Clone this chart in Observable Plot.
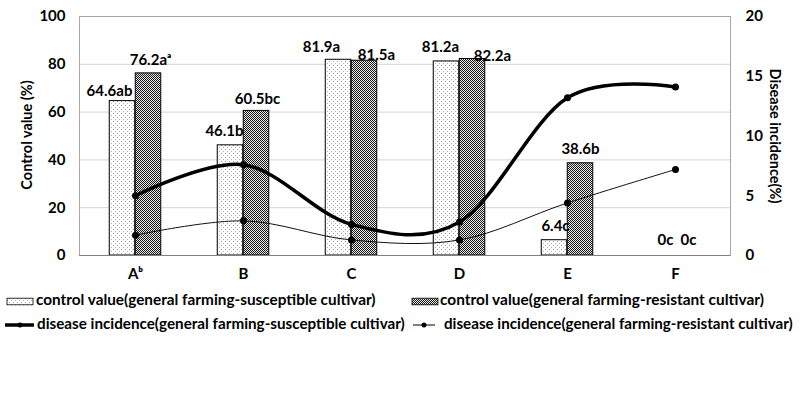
<!DOCTYPE html>
<html>
<head>
<meta charset="utf-8">
<script src="https://cdn.jsdelivr.net/npm/d3@7"></script>
<script src="https://cdn.jsdelivr.net/npm/@observablehq/plot@0.6"></script>
<style>
  html, body { margin: 0; padding: 0; background: #fff; }
  #chart svg, #legend svg { display: block; }
  #chart text { font-weight: bold; }
</style>
</head>
<body>
<svg width="0" height="0" style="position:absolute">
  <defs>
    <pattern id="pDots" width="4" height="4" patternUnits="userSpaceOnUse">
      <rect width="4" height="4" fill="#ffffff"/>
      <rect x="1" y="1" width="1" height="1" fill="#9a9a9a"/>
      <rect x="3" y="3" width="1" height="1" fill="#b0b0b0"/>
    </pattern>
    <pattern id="pCheck" width="2" height="2" patternUnits="userSpaceOnUse">
      <rect width="2" height="2" fill="#e8e8e8"/>
      <rect x="0" y="0" width="1" height="1" fill="#1a1a1a"/>
      <rect x="1" y="1" width="1" height="1" fill="#1a1a1a"/>
    </pattern>
  </defs>
</svg>
<div id="chart"></div>
<div id="legend"></div>
<script>
// ---- data ----
const categories = ["A", "B", "C", "D", "E", "F"];
const xLabels = ["A\u1d47", "B", "C", "D", "E", "F"];
const controlSus = [64.6, 46.1, 81.9, 81.2, 6.4, 0];
const controlRes = [76.2, 60.5, 81.5, 82.2, 38.6, 0];
const labelSus = ["64.6ab", "46.1b", "81.9a", "81.2a", "6.4c", "0c"];
const labelRes = ["76.2a\u1d43", "60.5bc", "81.5a", "82.2a", "38.6b", "0c"];
const incidenceSus = [5.0, 7.6, 2.6, 2.8, 13.2, 14.1];
const incidenceRes = [1.7, 2.9, 1.3, 1.3, 4.4, 7.2];
const leftTicks = [0, 20, 40, 60, 80, 100];
const rightTicks = [0, 5, 10, 15, 20];
const legendNames = [
  "control value(general farming-susceptible cultivar)",
  "control value(general farming-resistant cultivar)",
  "disease incidence(general farming-susceptible cultivar)",
  "disease incidence(general farming-resistant cultivar)"
];

// ---- label nudges (layout) ----
const susDx = [-26, -19, -30, -19, -12, -10];
const susDy = [-10, -14, -13, -14, -14, -15];
const resDx = [15, 14, 25, 33, 13, 13];
const resDy = [-13, -12, -6, -3, -14, -15];

// ---- tables ----
const rightMax = 20, leftMax = 100, k = leftMax / rightMax;
const susRows = categories.map((c, i) => ({cat: c, v: controlSus[i], label: labelSus[i], dx: susDx[i], dy: susDy[i]}));
const resRows = categories.map((c, i) => ({cat: c, v: controlRes[i], label: labelRes[i], dx: resDx[i], dy: resDy[i]}));
const incSusRows = categories.map((c, i) => ({cat: c, v: incidenceSus[i] * k}));
const incResRows = categories.map((c, i) => ({cat: c, v: incidenceRes[i] * k}));

const band = (802 - 79 - 72) / categories.length;
const barW = 26;

const labelMarks = [];
for (const r of susRows) labelMarks.push(Plot.text([r], {x: "cat", y: "v", text: "label", dx: r.dx, dy: r.dy, fontSize: 15, fontWeight: "bold", fill: "#000"}));
for (const r of resRows) labelMarks.push(Plot.text([r], {x: "cat", y: "v", text: "label", dx: r.dx, dy: r.dy, fontSize: 15, fontWeight: "bold", fill: "#000"}));

const chart = Plot.plot({
  width: 802,
  height: 285,
  marginTop: 16,
  marginBottom: 30,
  marginLeft: 79,
  marginRight: 72,
  style: {fontFamily: "Lato, 'Open Sans', sans-serif", fontSize: "15px", color: "#000", background: "#fff"},
  x: {domain: categories, padding: 0, label: null},
  y: {domain: [0, leftMax], label: null},
  marks: [
    Plot.ruleY([20, 40, 60, 80], {stroke: "#d4d4d4", strokeWidth: 1}),
    Plot.frame({stroke: "#a6a6a6"}),
    Plot.barY(susRows.filter(d => d.v > 0), {x: "cat", y: "v", insetLeft: band / 2 - barW, insetRight: band / 2, fill: "#fffffe", stroke: "#000", strokeWidth: 1}),
    Plot.barY(resRows.filter(d => d.v > 0), {x: "cat", y: "v", insetLeft: band / 2, insetRight: band / 2 - barW, fill: "#fffffd", stroke: "#000", strokeWidth: 1}),
    Plot.ruleY([0], {stroke: "#808080", strokeWidth: 1.2}),
    Plot.line(incSusRows, {x: "cat", y: "v", stroke: "#000", strokeWidth: 3.5, curve: "cardinal", tension: 0}),
    Plot.line(incResRows, {x: "cat", y: "v", stroke: "#111", strokeWidth: 1, curve: "cardinal", tension: 0}),
    Plot.dot(incSusRows, {x: "cat", y: "v", r: 3.5, fill: "#000"}),
    Plot.dot(incResRows, {x: "cat", y: "v", r: 3.5, fill: "#000"}),
    ...labelMarks,
    Plot.axisY({ticks: leftTicks, tickSize: 0, tickPadding: 14, label: null, fontSize: 15, fontWeight: "bold"}),
    Plot.axisY({anchor: "right", ticks: rightTicks.map(d => d * k), tickFormat: d => String(d / k), tickSize: 0, tickPadding: 15, label: null, fontSize: 15, fontWeight: "bold"}),
    Plot.axisX({tickSize: 0, tickPadding: 13, tickFormat: d => xLabels[categories.indexOf(d)], label: null, fontSize: 15, fontWeight: "bold"})
  ]
});

const svg = d3.select(chart);
svg.selectAll("g[fill='#fffffe']").attr("fill", "url(#pDots)");
svg.selectAll("g[fill='#fffffd']").attr("fill", "url(#pCheck)");

svg.append("text")
  .attr("transform", "translate(28,135) rotate(-90)")
  .attr("text-anchor", "middle").attr("dominant-baseline", "middle")
  .attr("font-size", 14.5).attr("font-weight", "bold").attr("fill", "#000")
  .text("Control value (%)");
svg.append("text")
  .attr("transform", "translate(774,136) rotate(90)")
  .attr("text-anchor", "middle").attr("dominant-baseline", "middle")
  .attr("font-size", 14.5).attr("font-weight", "bold").attr("fill", "#000")
  .text("Disease incidence(%)");

document.getElementById("chart").appendChild(chart);

// ---- legend ----
const lg = d3.select("#legend").append("svg").attr("width", 802).attr("height", 124)
  .style("font-family", "Lato, 'Open Sans', sans-serif");
const row1 = 16.5, row2 = 40;
lg.append("rect").attr("x", 7).attr("y", row1 - 3.3).attr("width", 26).attr("height", 6.6)
  .attr("fill", "url(#pDots)").attr("stroke", "#000").attr("stroke-width", 0.8);
lg.append("rect").attr("x", 412).attr("y", row1 - 3.3).attr("width", 26).attr("height", 6.6)
  .attr("fill", "url(#pCheck)").attr("stroke", "#000").attr("stroke-width", 0.8);
lg.append("line").attr("x1", 5).attr("x2", 34).attr("y1", row2).attr("y2", row2).attr("stroke", "#000").attr("stroke-width", 3.5);
lg.append("circle").attr("cx", 20).attr("cy", row2).attr("r", 2.5).attr("fill", "#000");
lg.append("line").attr("x1", 413).attr("x2", 435).attr("y1", row2).attr("y2", row2).attr("stroke", "#000").attr("stroke-width", 1);
lg.append("circle").attr("cx", 424).attr("cy", row2).attr("r", 2.5).attr("fill", "#000");
const legendText = [
  {x: 36, y: row1, w: 340, t: legendNames[0]},
  {x: 440, y: row1, w: 324, t: legendNames[1]},
  {x: 37, y: row2, w: 368, t: legendNames[2]},
  {x: 444, y: row2, w: 349, t: legendNames[3]}
];
for (const d of legendText) {
  const t = lg.append("text").attr("x", 0).attr("y", 0).attr("dominant-baseline", "middle")
    .attr("font-size", 14.5).attr("font-weight", "bold").attr("fill", "#000")
    .text(d.t);
  const natural = t.node().getComputedTextLength() || d.w;
  t.attr("transform", `translate(${d.x},${d.y}) scale(${d.w / natural},1)`);
}
</script>
</body>
</html>
